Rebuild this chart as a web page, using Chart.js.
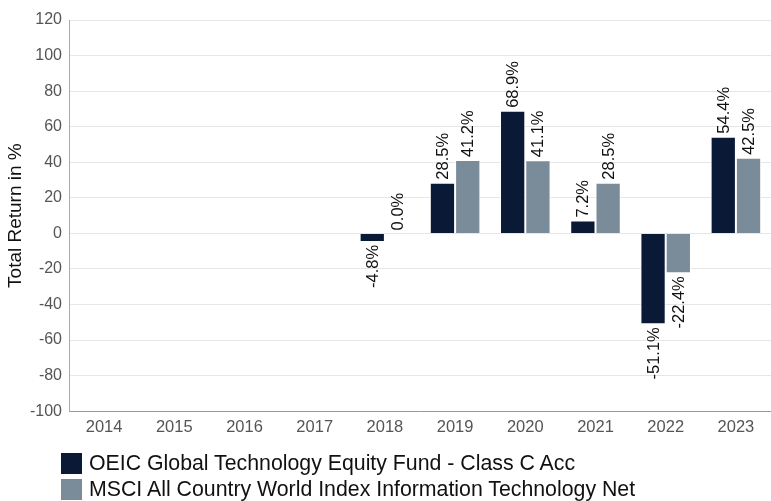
<!DOCTYPE html>
<html>
<head>
<meta charset="utf-8">
<script src="https://cdn.jsdelivr.net/npm/chart.js@4"></script>
<style>
  html, body { margin: 0; padding: 0; background: #fff; }
  #wrap { position: relative; width: 771px; height: 501px; }
  #legend { position: absolute; left: 61px; top: 450px; font-family: "Liberation Sans", Arial, sans-serif; font-size: 21.3px; color: #111; }
  .item { display: flex; align-items: center; height: 26px; }
  .box { width: 21px; height: 21px; margin-right: 7px; }
</style>
</head>
<body>
<div id="wrap">
  <canvas id="chart" width="771" height="501"></canvas>
  <div id="legend"></div>
</div>
<script>
// Calendar year total returns
const years = ['2014', '2015', '2016', '2017', '2018', '2019', '2020', '2021', '2022', '2023'];
const fundReturns = [null, null, null, null, -4.8, 28.5, 68.9, 7.2, -51.1, 54.4];
const indexReturns = [null, null, null, null, 0.0, 41.2, 41.1, 28.5, -22.4, 42.5];
const seriesNames = ['OEIC Global Technology Equity Fund - Class C Acc', 'MSCI All Country World Index Information Technology Net'];
const seriesColors = ['#0a1a36', '#7a8b9a'];

const fontFamily = '"Liberation Sans", Arial, sans-serif';

// rotated value labels at the end of each bar
const barLabels = {
  id: 'barLabels',
  afterDatasetsDraw(chart) {
    const ctx = chart.ctx;
    ctx.save();
    ctx.font = '16.5px ' + fontFamily;
    ctx.fillStyle = '#111';
    ctx.textBaseline = 'middle';
    chart.data.datasets.forEach((ds, i) => {
      chart.getDatasetMeta(i).data.forEach((bar, j) => {
        const v = ds.data[j];
        if (v === null) return;
        ctx.save();
        ctx.translate(bar.x + 1, bar.y);
        ctx.rotate(-Math.PI / 2);
        if (v >= 0) {
          ctx.textAlign = 'left';
          ctx.fillText(v.toFixed(1) + '%', 3, 0);
        } else {
          ctx.textAlign = 'right';
          ctx.fillText(v.toFixed(1) + '%', -3, 0);
        }
        ctx.restore();
      });
    });
    ctx.restore();
  }
};

new Chart(document.getElementById('chart'), {
  type: 'bar',
  data: {
    labels: years,
    datasets: [
      { label: seriesNames[0], data: fundReturns, backgroundColor: seriesColors[0], borderColor: '#ffffff', borderWidth: 1 },
      { label: seriesNames[1], data: indexReturns, backgroundColor: seriesColors[1], borderColor: '#ffffff', borderWidth: 1 }
    ]
  },
  options: {
    responsive: false,
    animation: false,
    categoryPercentage: 0.72,
    barPercentage: 1,
    layout: { padding: { top: 20, right: 0, bottom: 58, left: 0 } },
    plugins: {
      legend: { display: false },
      tooltip: { enabled: false }
    },
    scales: {
      x: {
        grid: { display: false, drawTicks: false },
        border: { display: true, color: '#999', width: 1 },
        ticks: { color: '#555', font: { family: fontFamily, size: 16.5 }, padding: 6 }
      },
      y: {
        min: -100,
        max: 120,
        afterFit(scale) { scale.width = 69; },
        grid: { color: '#e6e6e6', drawTicks: false },
        border: { display: true, color: '#aaa', width: 1 },
        ticks: { stepSize: 20, color: '#555', font: { family: fontFamily, size: 16 }, padding: 7 },
        title: { display: true, text: 'Total Return in %', color: '#111', font: { family: fontFamily, size: 19 }, padding: { top: 4, bottom: 0 } }
      }
    }
  },
  plugins: [barLabels]
});

// legend below the chart
const legendEl = document.getElementById('legend');
seriesNames.forEach((name, i) => {
  const row = document.createElement('div');
  row.className = 'item';
  row.innerHTML = '<span class="box" style="background:' + seriesColors[i] + '"></span><span>' + name + '</span>';
  legendEl.appendChild(row);
});
</script>
</body>
</html>
